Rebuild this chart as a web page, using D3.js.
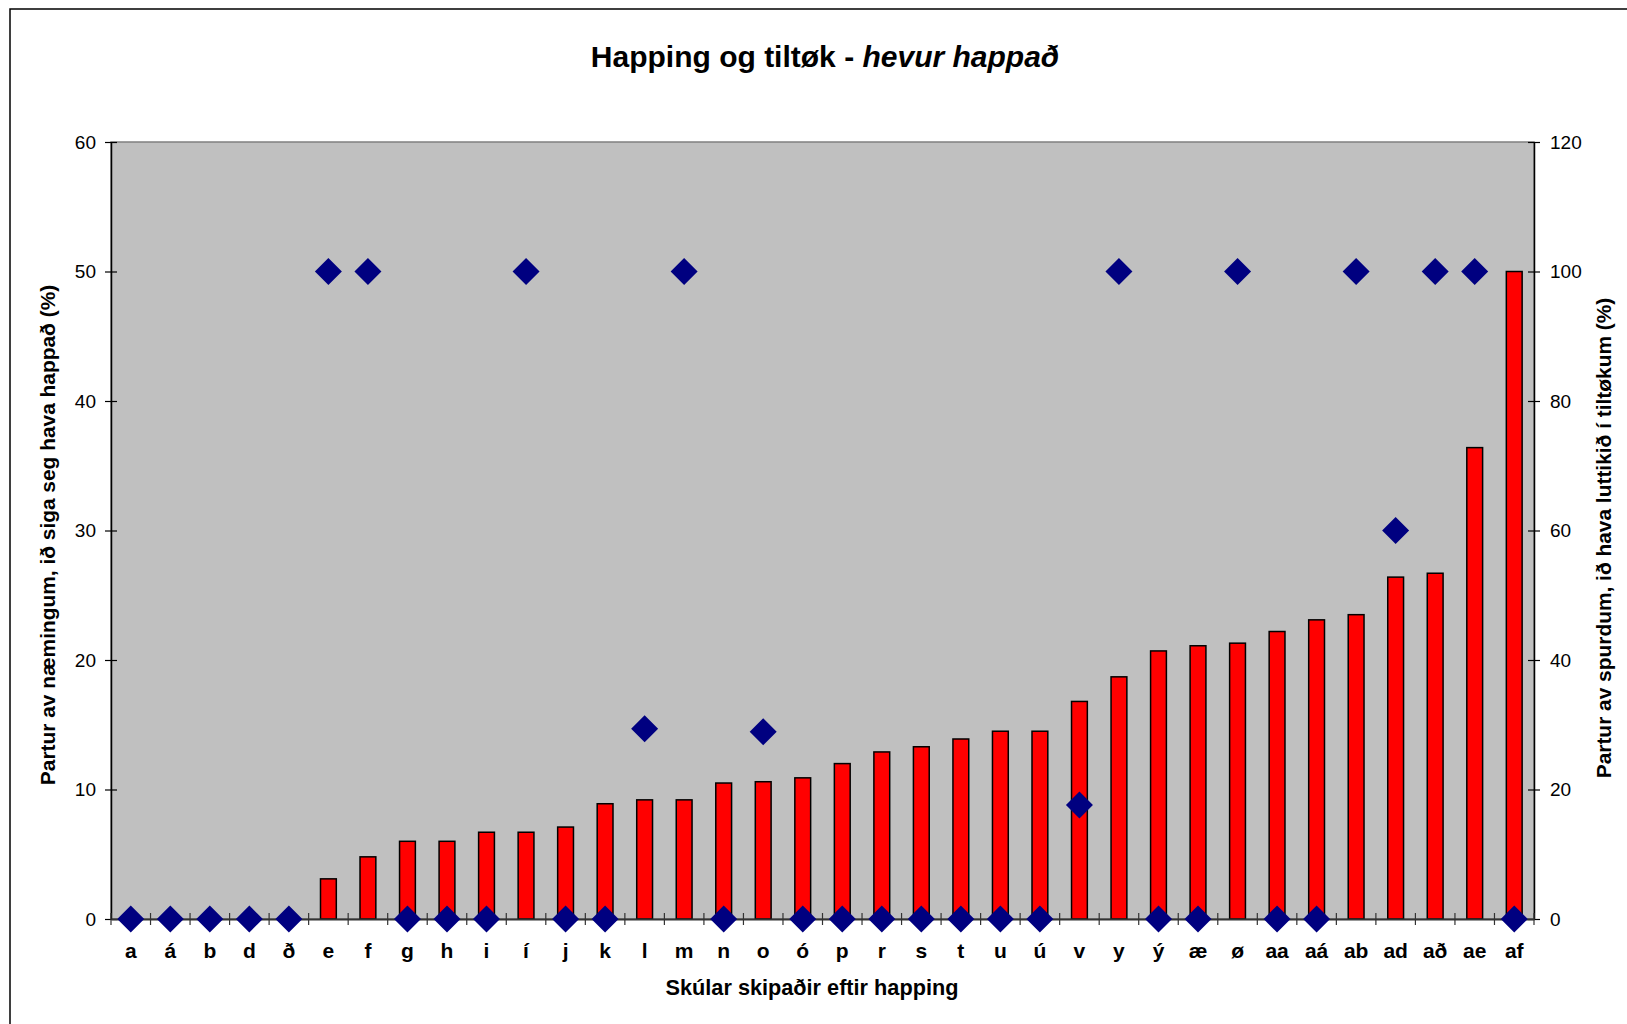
<!DOCTYPE html>
<html>
<head>
<meta charset="utf-8">
<script src="https://cdn.jsdelivr.net/npm/d3@7"></script>
<style>
	body { margin: 0; background: white; }
	svg { display: block; font-family: "Liberation Sans", Arial, sans-serif; }
</style>
</head>
<body>
<svg id="chart" width="1627" height="1024"></svg>
<script>
// schools, ordered by share of pupils who say they have been bullied
const categories = ["a", "á", "b", "d", "ð", "e", "f", "g", "h", "i", "í", "j", "k", "l", "m", "n", "o", "ó",
	"p", "r", "s", "t", "u", "ú", "v", "y", "ý", "æ", "ø", "aa", "aá", "ab", "ad", "að", "ae", "af"];

// left axis: partur av næmingum, ið siga seg hava happað (%)
const happadValues = [0, 0, 0, 0, 0, 3.1, 4.8, 6.0, 6.0, 6.7, 6.7, 7.1, 8.9, 9.2, 9.2, 10.5, 10.6, 10.9,
	12.0, 12.9, 13.3, 13.9, 14.5, 14.5, 16.8, 18.7, 20.7, 21.1, 21.3, 22.2, 23.1, 23.5, 26.4, 26.7, 36.4, 50.0];

// right axis: partur av spurdum, ið hava luttikið í tiltøkum (%)
const tiltokValues = [0, 0, 0, 0, 0, 100, 100, 0, 0, 0, 100, 0, 0, 29.4, 100, 0, 28.9, 0,
	0, 0, 0, 0, 0, 0, 17.6, 100, 0, 0, 100, 0, 0, 100, 60, 100, 100, 0];

const leftTicks = [0, 10, 20, 30, 40, 50, 60];
const rightTicks = [0, 20, 40, 60, 80, 100, 120];

const svg = d3.select("#chart");

const plot = { left: 111, right: 1534, top: 142, bottom: 919 };

// outer chart frame (runs off the right and bottom edges)
svg.append("rect")
	.attr("x", 10).attr("y", 9)
	.attr("width", 1800).attr("height", 1200)
	.style("fill", "none")
	.style("stroke", "black")
	.style("stroke-width", 1.5);

const x = d3.scaleBand()
	.domain(categories)
	.range([plot.left, plot.right])
	.padding(0);

const yLeft = d3.scaleLinear()
	.domain([0, 60])
	.range([plot.bottom, plot.top]);

const yRight = d3.scaleLinear()
	.domain([0, 120])
	.range([plot.bottom, plot.top]);

// grey plot area
svg.append("rect")
	.attr("x", plot.left).attr("y", plot.top)
	.attr("width", plot.right - plot.left)
	.attr("height", plot.bottom - plot.top)
	.style("fill", "#c0c0c0")
	.style("stroke", "#808080")
	.style("stroke-width", 1.5);

// bars
const barWidth = x.bandwidth() * 0.4;
svg.append("g").selectAll(".bar")
	.data(categories)
	.enter()
	.append("rect")
	.classed("bar", true)
	.attr("x", (d) => x(d) + (x.bandwidth() - barWidth) / 2)
	.attr("y", (d, i) => yLeft(happadValues[i]))
	.attr("width", barWidth)
	.attr("height", (d, i) => plot.bottom - yLeft(happadValues[i]))
	.style("fill", "#ff0000")
	.style("stroke", "black")
	.style("stroke-width", 1.5)
	.filter((d, i) => happadValues[i] === 0)
	.remove();

// axes
const tickFont = "19px";

const leftAxis = d3.axisLeft(yLeft)
	.tickValues(leftTicks)
	.tickSizeInner(6)
	.tickSizeOuter(0)
	.tickPadding(9);

const leftG = svg.append("g")
	.attr("transform", "translate(" + plot.left + ",0)")
	.call(leftAxis);

const rightAxis = d3.axisRight(yRight)
	.tickValues(rightTicks)
	.tickSizeInner(6)
	.tickSizeOuter(0)
	.tickPadding(10);

const rightG = svg.append("g")
	.attr("transform", "translate(" + plot.right + ",0)")
	.call(rightAxis);

[leftG, rightG].forEach((g) => {
	g.select(".domain").style("stroke", "black").style("stroke-width", 1.5);
	// ticks cross the axis line
	g.selectAll(".tick line")
		.attr("x1", -6).attr("x2", 6)
		.style("stroke", "black").style("stroke-width", 1.2);
	g.selectAll(".tick text")
		.style("font-size", tickFont)
		.style("font-family", "Liberation Sans, Arial, sans-serif")
		.style("fill", "black");
});

// category axis
const bottomAxis = d3.axisBottom(x)
	.tickSize(0)
	.tickPadding(24);

const bottomG = svg.append("g")
	.attr("transform", "translate(0," + plot.bottom + ")")
	.call(bottomAxis);

bottomG.select(".domain").style("stroke", "#333").style("stroke-width", 2);
bottomG.selectAll(".tick text")
	.style("font-size", "21px")
	.style("font-weight", "bold")
	.style("font-family", "Liberation Sans, Arial, sans-serif")
	.style("fill", "black");

// tick marks between categories
const edges = categories.map((c) => x(c)).concat([plot.right]);
svg.append("g").selectAll("line")
	.data(edges)
	.enter()
	.append("line")
	.attr("x1", (d) => d).attr("x2", (d) => d)
	.attr("y1", plot.bottom - 6).attr("y2", plot.bottom + 6)
	.style("stroke", "#333")
	.style("stroke-width", 1.2);

// diamonds on the right axis
const half = 13.5;
svg.append("g").selectAll(".point")
	.data(categories)
	.enter()
	.append("path")
	.classed("point", true)
	.attr("d", "M0," + (-half) + "L" + half + ",0L0," + half + "L" + (-half) + ",0Z")
	.attr("transform", (d, i) => "translate(" + (x(d) + x.bandwidth() / 2) + "," + yRight(tiltokValues[i]) + ")")
	.style("fill", "#000080");

// titles
const title = svg.append("text")
	.attr("x", 825).attr("y", 67)
	.attr("text-anchor", "middle")
	.style("font-size", "30px")
	.style("font-weight", "bold");
title.append("tspan").text("Happing og tiltøk - ");
title.append("tspan").style("font-style", "italic").text("hevur happað");

svg.append("text")
	.attr("x", 812).attr("y", 995)
	.attr("text-anchor", "middle")
	.style("font-size", "21.7px")
	.style("font-weight", "bold")
	.text("Skúlar skipaðir eftir happing");

svg.append("text")
	.attr("transform", "translate(55,535) rotate(-90)")
	.attr("text-anchor", "middle")
	.style("font-size", "20.9px")
	.style("font-weight", "bold")
	.text("Partur av næmingum, ið siga seg hava happað (%)");

svg.append("text")
	.attr("transform", "translate(1611,538) rotate(-90)")
	.attr("text-anchor", "middle")
	.style("font-size", "20.9px")
	.style("font-weight", "bold")
	.text("Partur av spurdum, ið hava luttikið í tiltøkum (%)");
</script>
</body>
</html>
